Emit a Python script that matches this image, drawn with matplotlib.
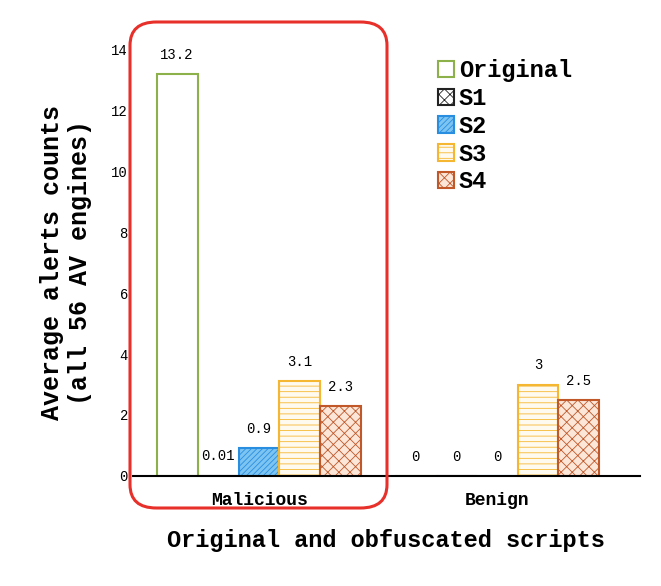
import matplotlib
matplotlib.use('Agg')
from matplotlib import pyplot as plt
from matplotlib.patches import FancyBboxPatch
import numpy as np

plt.rcParams['font.family'] = ['Liberation Mono', 'DejaVu Sans Mono']
plt.rcParams['hatch.linewidth'] = 0.6

groups = ['Malicious', 'Benign']
series = ['Original', 'S1', 'S2', 'S3', 'S4']
values = {
    'Original': [13.2, 0],
    'S1': [0.01, 0],
    'S2': [0.9, 0],
    'S3': [3.1, 3],
    'S4': [2.3, 2.5],
}
labels = {
    'Original': ['13.2', '0'],
    'S1': ['0.01', '0'],
    'S2': ['0.9', '0'],
    'S3': ['3.1', '3'],
    'S4': ['2.3', '2.5'],
}
edge = {'Original': '#8cb04a', 'S1': '#222222', 'S2': '#2a8ee0', 'S3': '#f5b731', 'S4': '#c0582a'}
face = {'Original': 'white', 'S1': 'white', 'S2': '#7cc4f2', 'S3': '#fffaf0', 'S4': '#fbe6d8'}
hatch = {'Original': '', 'S1': 'xxx', 'S2': '//////', 'S3': '---', 'S4': 'xxx'}

fig = plt.figure(figsize=(6.61, 5.86), dpi=100)
ax = fig.add_axes([0.201, 0.188, 0.767, 0.727])

x = np.arange(len(groups))
w = 0.172
for i, s in enumerate(series):
    pos = x + (i - 2) * w
    ax.bar(pos, values[s], w, facecolor=face[s], edgecolor=edge[s],
           hatch=hatch[s], linewidth=1.5, label=s)
    for p, v, t in zip(pos, values[s], labels[s]):
        ax.text(p, v + 0.4, t, ha='center', va='bottom', fontsize=10)

ax.set_ylim(0, 14)
ax.set_xlim(-0.53, 1.6)
ax.set_yticks(range(0, 15, 2))
ax.set_xticks(x)
ax.set_xticklabels(groups, fontsize=13, fontweight='bold')
ax.tick_params(axis='y', length=0, labelsize=10)
ax.tick_params(axis='x', length=0, pad=12)
for sp in ['left', 'right', 'top']:
    ax.spines[sp].set_visible(False)
ax.spines['bottom'].set_linewidth(1.5)
ax.set_ylabel('Average alerts counts\n(all 56 AV engines)', fontsize=18, fontweight='bold', labelpad=14)
ax.set_xlabel('Original and obfuscated scripts', fontsize=17, fontweight='bold', labelpad=14)

fig.legend(loc='upper left', bbox_to_anchor=(0.63, 0.935), frameon=False,
           prop={'weight': 'bold', 'size': 17},
           handlelength=0.7, handleheight=0.7, handletextpad=0.2, labelspacing=0.2)

rect = FancyBboxPatch((130 / 661, 1 - 508 / 586), 257 / 661, 486 / 586,
                      boxstyle='round,pad=0,rounding_size=0.04',
                      transform=fig.transFigure, fill=False, edgecolor='#e8302a', linewidth=2.2)
fig.patches.append(rect)

plt.savefig('out.png', dpi=100)
